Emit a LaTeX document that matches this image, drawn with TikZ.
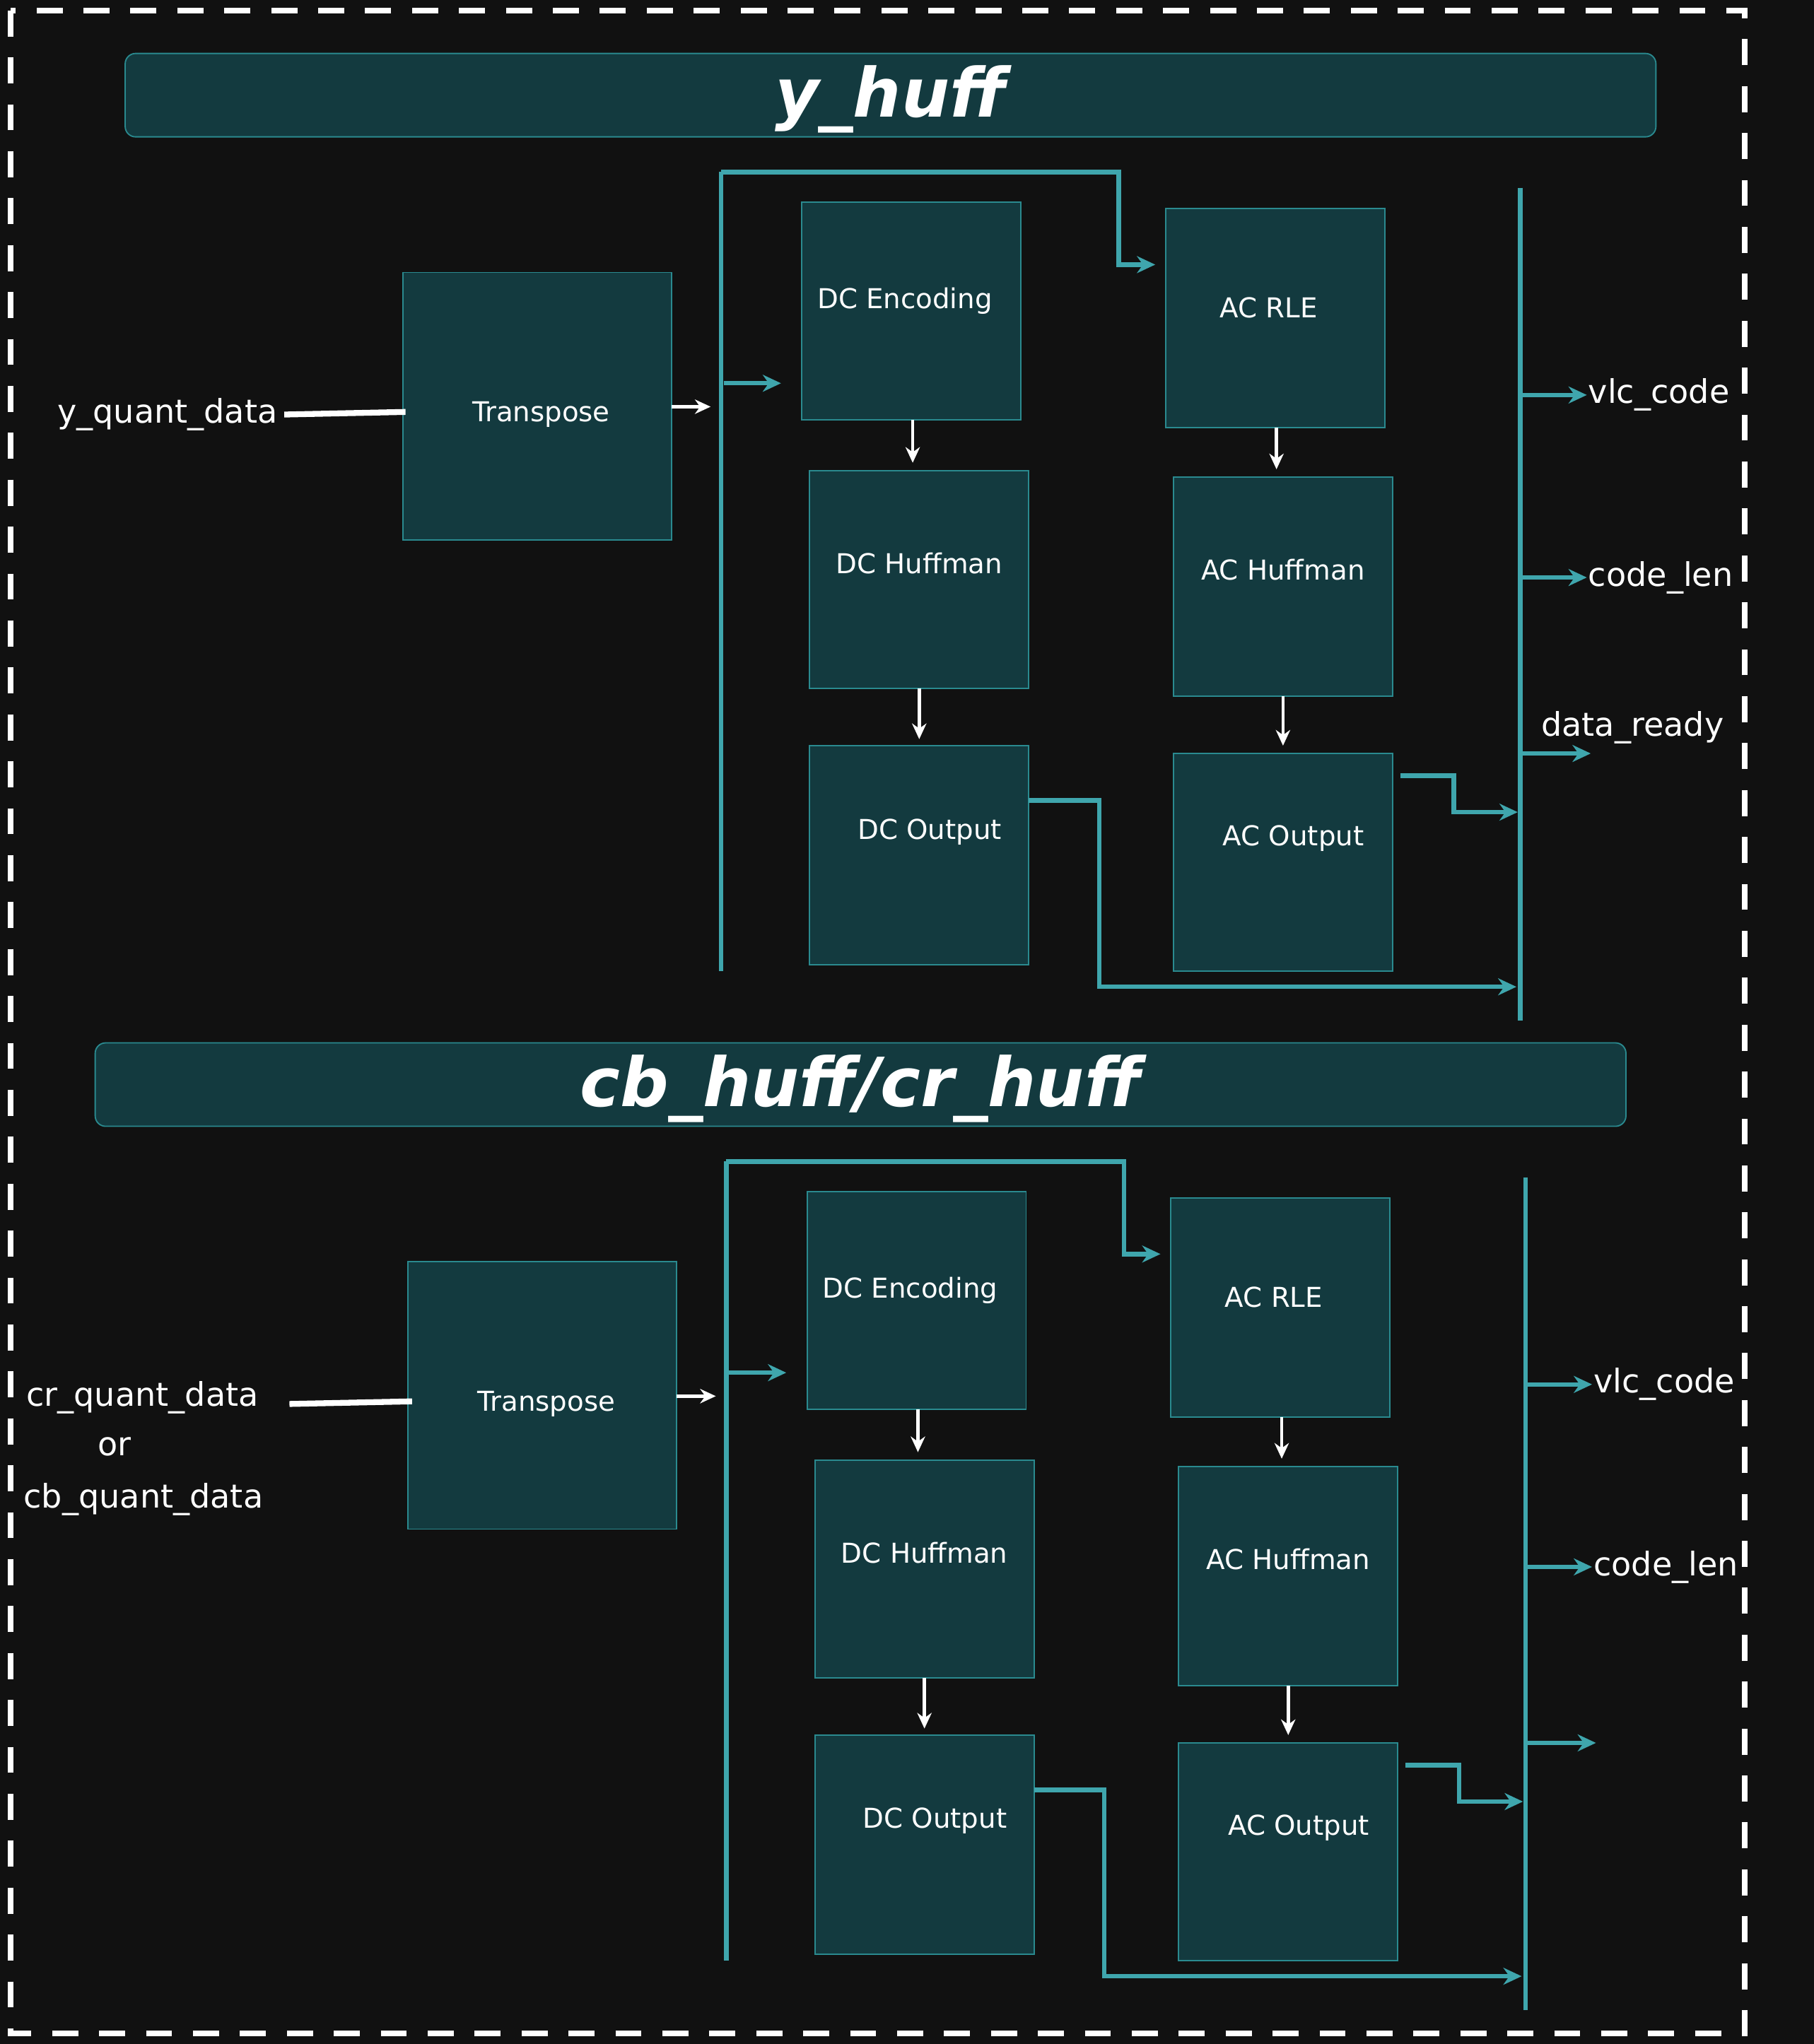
\documentclass[tikz,border=0pt]{standalone}
\usepackage{fontspec}
\setmainfont{DejaVu Sans}
\usetikzlibrary{arrows.meta}
\definecolor{bg}{HTML}{111111}
\definecolor{boxfill}{HTML}{133A3F}
\definecolor{boxline}{HTML}{2A8A8F}
\definecolor{teal}{HTML}{3FA6AD}
\tikzset{
 blk/.style={draw=boxline,fill=boxfill,line width=1pt},
 lbl/.style={text=white,font=\fontsize{21}{25}\selectfont,inner sep=0pt},
 io/.style={text=white,font=\fontsize{25}{30}\selectfont,inner sep=0pt},
 ttl/.style={text=white,font=\fontsize{52}{60}\selectfont\bfseries\itshape,inner sep=0pt},
 tarr/.style={draw=teal,line width=3.5pt,-{Stealth[length=14pt,width=13pt]}},
 tline/.style={draw=teal,line width=3.5pt},
 warr/.style={draw=white,line width=2.5pt,-{Stealth[length=12pt,width=11pt]}},
}
\newcommand{\huffsec}[1]{%
 \draw[blk] (309,209) rectangle (515,414); \node[lbl] (#1tr) at (415,318) {Transpose};
 \draw[blk] (615,155) rectangle (783,322); \node[lbl] (#1dce) at (694,231) {DC Encoding};
 \draw[blk] (621,361) rectangle (789,528); \node[lbl] (#1dch) at (705,432) {DC Huffman};
 \draw[blk] (621,572) rectangle (789,740); \node[lbl] (#1dco) at (713,638) {DC Output};
 \draw[blk] (894,160) rectangle (1062,328); \node[lbl] (#1acr) at (973,236) {AC RLE};
 \draw[blk] (900,366) rectangle (1068,534); \node[lbl] (#1ach) at (984,437) {AC Huffman};
 \draw[blk] (900,578) rectangle (1068,745); \node[lbl] (#1aco) at (992,643) {AC Output};
 \coordinate (#1a1) at (515,312); \coordinate (#1a2) at (545,312);
 \draw[warr] (#1a1) -- (#1a2);
 \coordinate (#1b1) at (553,132); \coordinate (#1b2) at (553,745);
 \draw[tline] (#1b1) -- (#1b2);
 \coordinate (#1c1) at (886,203);
 \draw[tarr] (#1b1) -- (858,132) -- (858,203) -- (#1c1);
 \coordinate (#1d1) at (555,294); \coordinate (#1d2) at (599,294);
 \draw[tarr] (#1d1) -- (#1d2);
 \draw[warr] (700,322) -- (700,355);
 \draw[warr] (705,528) -- (705,567);
 \draw[warr] (979,328) -- (979,360);
 \draw[warr] (984,534) -- (984,572);
 \coordinate (#1e1) at (789,614); \coordinate (#1e2) at (1163,757);
 \draw[tarr] (#1e1) -- (843,614) -- (843,757) -- (#1e2);
 \coordinate (#1f1) at (1074,595); \coordinate (#1f2) at (1164,623);
 \draw[tarr] (#1f1) -- (1115,595) -- (1115,623) -- (#1f2);
 \coordinate (#1g1) at (1166,144); \coordinate (#1g2) at (1166,783);
 \draw[tline] (#1g1) -- (#1g2);
 \coordinate (#1h1) at (1166,303); \coordinate (#1h2) at (1217,303);
 \draw[tarr] (#1h1) -- (#1h2);
 \coordinate (#1i1) at (1166,443); \coordinate (#1i2) at (1217,443);
 \draw[tarr] (#1i1) -- (#1i2);
 \coordinate (#1j1) at (1166,578); \coordinate (#1j2) at (1220,578);
 \draw[tarr] (#1j1) -- (#1j2);
 \node[io,anchor=west] (#1vlc) at (1218,303) {vlc\_code};
 \node[io,anchor=west] (#1cl) at (1218,443) {code\_len};
}
\begin{document}
\begin{tikzpicture}[x=1pt,y=-1pt]
\fill[bg] (0,0) rectangle (1391,1568);
\useasboundingbox (0,0) rectangle (1391,1568);
\draw[white,line width=4.5pt,dash pattern=on 20pt off 16pt] (8,8) rectangle (1338,1560);
% top
\draw[blk,rounded corners=8pt] (96,41) rectangle (1270,105);
\node[ttl] (t1) at (683,76) {y\_huff};
\huffsec{u}
\node[io,anchor=east] (yq) at (213,318) {y\_quant\_data};
\draw[white,line width=4.5pt] (yq.east) ++(5,0) -- (311,316);
\node[io] (dr) at (1252,558) {data\_ready};
% bottom
\draw[blk,rounded corners=8pt] (73,800) rectangle (1247,864);
\node[ttl] (t2) at (660,835) {cb\_huff/cr\_huff};
\begin{scope}[shift={(4,759)}]
\huffsec{l}
\end{scope}
\node[io,anchor=west] (cr) at (20,1072) {cr\_quant\_data};
\node[io] (or) at (88,1110) {or};
\node[io,anchor=west] (cb) at (18,1150) {cb\_quant\_data};
\draw[white,line width=4.5pt] (222,1077) -- (316,1075);
\end{tikzpicture}
\end{document}
